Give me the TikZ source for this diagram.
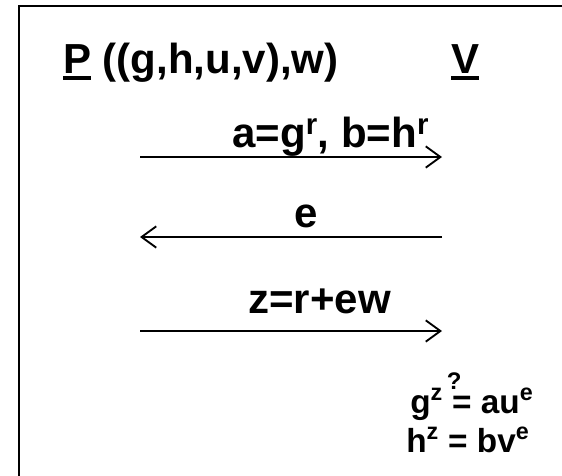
\documentclass[tikz,border=0pt]{standalone}
\usepackage{fontspec}
\setmainfont{Liberation Sans}
\usetikzlibrary{arrows.meta}

\newcommand{\ulletter}[1]{\setbox0\hbox{#1}\rlap{\rule[-5pt]{\wd0}{2.4pt}}\box0\relax}

\begin{document}
\begin{tikzpicture}[x=0.75pt,y=-0.75pt,
  msg/.style={line width=1.4pt,-{Straight Barb[length=11pt,width=16pt,line width=1.4pt]}},
  lbl/.style={font=\fontsize{31.5}{36}\selectfont\bfseries,inner sep=0pt,anchor=base west},
  eqn/.style={font=\fontsize{25}{30}\selectfont\bfseries,inner sep=0pt,anchor=base west}]
\useasboundingbox (0,0) rectangle (562,476);

% Frame (only top and left edges are in view)
\draw[line width=1.5pt] (19,476) -- (19,6) -- (562,6);

% Parties
\node[lbl] (prover) at (63,73) {\ulletter{P} ((g,h,u,v),w)};
\node[lbl] (verifier) at (451,73) {\ulletter{V}};

% Ends of the three messages
\foreach \i/\y in {1/157,2/237,3/331} {
    \coordinate (p\i) at (140,\y);
    \coordinate (v\i) at (442,\y);
}

% Messages
\draw[msg] (p1) -- (v1);
\node[lbl] (commit) at (232,147) {a=g\textsuperscript{r}, b=h\textsuperscript{r}};
\draw[msg] (v2) -- (p2);
\node[lbl,anchor=base] (challenge) at (306,227) {e};
\draw[msg] (p3) -- (v3);
\node[lbl] (response) at (248,313) {z=r+ew};

% Verifier's checks
\node[eqn] (check1) at (410,413) {g\textsuperscript{z} \makebox[0pt][l]{\hspace{-4pt}\raisebox{17.5pt}{\fontsize{18}{18}\selectfont ?}}= au\textsuperscript{e}};
\node[eqn] (check2) at (406,452) {h\textsuperscript{z} = bv\textsuperscript{e}};

\end{tikzpicture}
\end{document}
